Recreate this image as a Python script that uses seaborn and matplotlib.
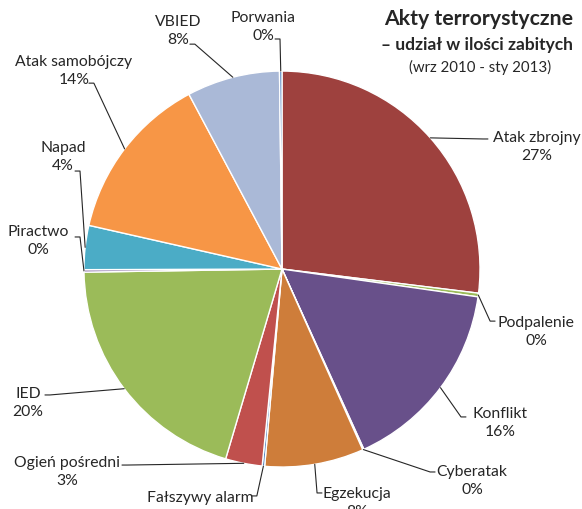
import numpy as np
import matplotlib
matplotlib.use("Agg")
import matplotlib.pyplot as plt
import seaborn as sns

# Dane (udział w ilości zabitych, %)
categories = ["Atak zbrojny", "Podpalenie", "Konflikt", "Cyberatak", "Egzekucja",
              "Fałszywy alarm", "Ogień pośredni", "IED", "Piractwo", "Napad",
              "Atak samobójczy", "VBIED", "Porwania"]
shares = [27.0, 0.3, 16.0, 0.1, 8.1, 0.2, 3.0, 20.2, 0.2, 3.6, 13.7, 7.6, 0.2]
colors = ["#9E413E", "#9BBB59", "#68508A", "#4BACC6", "#CE7D3A", "#4F81BD",
          "#C0504D", "#9BBB59", "#8064A2", "#4BACC6", "#F79646", "#AAB9D7", "#4F81BD"]

# Pozycje etykiet i końce linii odniesienia (promień koła = 1)
label_pos = [(1.288, 0.621), (1.283, -0.313), (1.101, -0.773), (0.960, -1.066),
             (0.379, -1.177), (-0.414, -1.197), (-1.086, -1.020), (-1.283, -0.672),
             (-1.232, 0.146), (-1.106, 0.571), (-1.051, 1.005), (-0.525, 1.207),
             (-0.096, 1.227)]
leader_end = [(1.040, 0.657), (1.076, -0.263), (0.929, -0.747), (0.773, -1.025),
              (0.202, -1.131), (-0.152, -1.146), (-0.808, -0.990), (-1.197, -0.636),
              (-1.045, 0.162), (-1.045, 0.495), (-0.975, 0.939), (-0.465, 1.136),
              (-0.035, 1.162)]

sns.set_theme(style="white")
plt.rcParams["font.family"] = ["Lato", "DejaVu Sans"]
text_color = "#262626"

fig = plt.figure(figsize=(5.82, 5.10), dpi=100)
ax = fig.add_axes([0, 0, 1, 1])
wedges, _ = ax.pie(shares, colors=colors, startangle=90, counterclock=False, radius=1,
                   wedgeprops=dict(edgecolor="white", linewidth=1))
ax.set_xlim(-1.424, 1.515)
ax.set_ylim(-1.212, 1.364)
ax.set_aspect("auto")
ax.axis("off")

total = sum(shares)
for w, name, val, pos, end in zip(wedges, categories, shares, label_pos, leader_end):
    ax.text(pos[0], pos[1], f"{name}\n{val / total * 100:.0f}%", ha="center", va="center",
            fontsize=11.3, color=text_color, linespacing=1.3)
    ang = np.deg2rad((w.theta1 + w.theta2) / 2)
    stub = -0.025 if pos[0] > end[0] else 0.025
    xs = [np.cos(ang), end[0] + stub, end[0]]
    ys = [np.sin(ang), end[1], end[1]]
    ax.plot(xs, ys, color=text_color, lw=0.8, clip_on=False)

fig.text(0.823, 0.963, "Akty terrorystyczne", ha="center", va="center",
         fontsize=15.3, fontweight="bold", color=text_color)
fig.text(0.820, 0.912, "– udział w ilości zabitych", ha="center", va="center",
         fontsize=12.5, fontweight="bold", color=text_color)
fig.text(0.825, 0.867, "(wrz 2010 - sty 2013)", ha="center", va="center",
         fontsize=10.8, color=text_color)

fig.savefig("out.png", dpi=100)
plt.close()
